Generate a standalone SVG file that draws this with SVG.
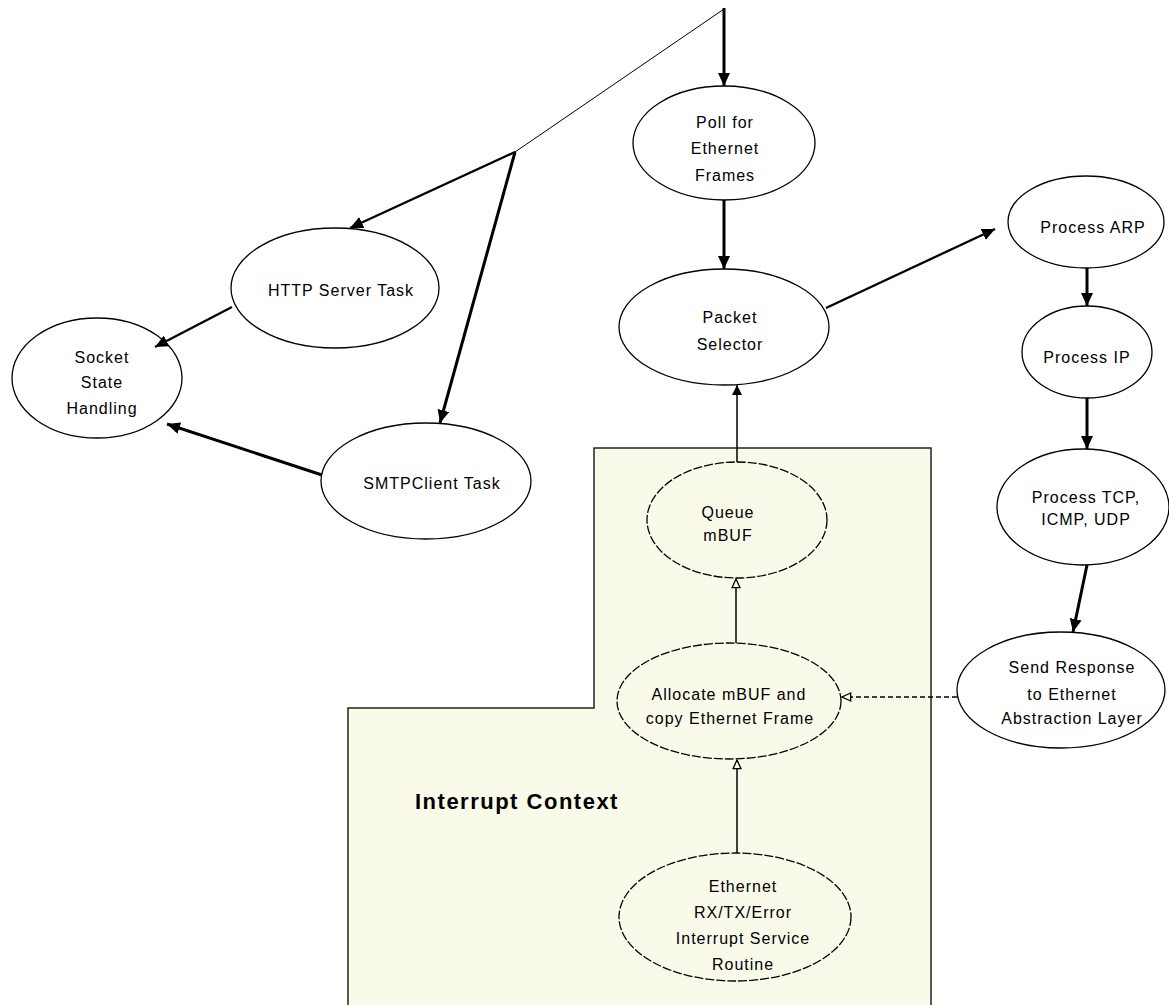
<svg xmlns="http://www.w3.org/2000/svg" width="1169" height="1005" viewBox="0 0 1169 1005">
<style>
  .node ellipse { fill: #ffffff; stroke: #000000; stroke-width: 1.3; }
  .inner ellipse { fill: none; stroke: #000000; stroke-width: 1.3; stroke-dasharray: 9 2; }
  .lbl { font-family: "Liberation Sans", Arial, sans-serif; font-size: 16px; letter-spacing: 1px; fill: #000000; text-anchor: middle; }
  .title { font-family: "Liberation Sans", Arial, sans-serif; font-size: 22px; font-weight: bold; letter-spacing: 1.5px; fill: #000000; }
  .c { fill: none; stroke: #000000; stroke-linecap: butt; }
  .thick { stroke-width: 3; }
  .med { stroke-width: 2.3; }
  .thin { stroke-width: 1; }
  .fine { stroke-width: 1.5; }
  .dash { stroke-width: 1.5; stroke-dasharray: 5 3; }
</style>
<defs>
  <marker id="ah" markerUnits="userSpaceOnUse" markerWidth="14" markerHeight="12" refX="13" refY="6" orient="auto" viewBox="0 0 14 12">
    <path d="M0,0 L13,6 L0,12 z" fill="#000000"/>
  </marker>
  <marker id="ahs" markerUnits="userSpaceOnUse" markerWidth="11" markerHeight="10" refX="10" refY="5" orient="auto" viewBox="0 0 11 10">
    <path d="M0,0 L10,5 L0,10 z" fill="#000000"/>
  </marker>
  <marker id="aho" markerUnits="userSpaceOnUse" markerWidth="11" markerHeight="10" refX="9.5" refY="5" orient="auto" viewBox="0 0 11 10">
    <path d="M0.8,1 L9.5,5 L0.8,9 z" fill="#FAFAEB" stroke="#000000" stroke-width="1.3"/>
  </marker>
</defs>

<g id="interrupt-context">
  <polygon points="594,448 931,448 931,1012 348,1012 348,708 594,708" fill="#FAFAEB" stroke="#222222" stroke-width="1.5"/>
  <text class="title" x="415" y="809">Interrupt Context</text>
</g>

<g id="poll">
  <g class="node"><ellipse cx="724" cy="143" rx="91" ry="57"/></g>
  <text class="lbl" x="725" y="128">Poll for</text>
  <text class="lbl" x="725" y="154">Ethernet</text>
  <text class="lbl" x="725" y="181">Frames</text>
</g>
<g id="http">
  <g class="node"><ellipse cx="335" cy="288" rx="104" ry="60"/></g>
  <text class="lbl" x="341" y="296">HTTP Server Task</text>
</g>
<g id="socket">
  <g class="node"><ellipse cx="97" cy="378" rx="85" ry="60"/></g>
  <text class="lbl" x="102" y="363">Socket</text>
  <text class="lbl" x="102" y="388">State</text>
  <text class="lbl" x="102" y="414">Handling</text>
</g>
<g id="smtp">
  <g class="node"><ellipse cx="426" cy="481" rx="105" ry="58"/></g>
  <text class="lbl" x="432" y="489">SMTPClient Task</text>
</g>
<g id="packet">
  <g class="node"><ellipse cx="724" cy="327" rx="105" ry="58"/></g>
  <text class="lbl" x="730" y="323">Packet</text>
  <text class="lbl" x="730" y="350">Selector</text>
</g>
<g id="arp">
  <g class="node"><ellipse cx="1086" cy="222" rx="78" ry="46"/></g>
  <text class="lbl" x="1093" y="233">Process ARP</text>
</g>
<g id="ip">
  <g class="node"><ellipse cx="1087" cy="352" rx="65" ry="46"/></g>
  <text class="lbl" x="1087" y="363">Process IP</text>
</g>
<g id="tcp">
  <g class="node"><ellipse cx="1083" cy="507" rx="86" ry="58"/></g>
  <text class="lbl" x="1086" y="503">Process TCP,</text>
  <text class="lbl" x="1086" y="525">ICMP, UDP</text>
</g>
<g id="send">
  <g class="node"><ellipse cx="1061" cy="690" rx="104" ry="58"/></g>
  <text class="lbl" x="1072" y="673">Send Response</text>
  <text class="lbl" x="1072" y="700">to Ethernet</text>
  <text class="lbl" x="1072" y="724">Abstraction Layer</text>
</g>
<g id="queue">
  <g class="inner"><ellipse cx="737" cy="520" rx="90" ry="58"/></g>
  <text class="lbl" x="728" y="518">Queue</text>
  <text class="lbl" x="728" y="541">mBUF</text>
</g>
<g id="allocate">
  <g class="inner"><ellipse cx="729" cy="701" rx="112" ry="58"/></g>
  <text class="lbl" x="729" y="700">Allocate mBUF and</text>
  <text class="lbl" x="730" y="724">copy Ethernet Frame</text>
</g>
<g id="isr">
  <g class="inner"><ellipse cx="735" cy="917" rx="116" ry="64"/></g>
  <text class="lbl" x="743" y="892">Ethernet</text>
  <text class="lbl" x="743" y="918">RX/TX/Error</text>
  <text class="lbl" x="743" y="944">Interrupt Service</text>
  <text class="lbl" x="743" y="970">Routine</text>
</g>

<g id="connectors">
  <line class="c thick" x1="724" y1="8" x2="724" y2="86" marker-end="url(#ah)"/>
  <line class="c thin" x1="724" y1="9" x2="515" y2="152"/>
  <line class="c med" x1="515" y1="152" x2="350" y2="228" marker-end="url(#ah)"/>
  <line class="c thick" x1="515" y1="152" x2="440" y2="423" marker-end="url(#ah)"/>
  <line class="c med" x1="232" y1="307" x2="155" y2="347" marker-end="url(#ah)"/>
  <line class="c thick" x1="322" y1="475" x2="167" y2="424" marker-end="url(#ah)"/>
  <line class="c thick" x1="724" y1="200" x2="724" y2="269" marker-end="url(#ah)"/>
  <line class="c med" x1="826" y1="308" x2="995" y2="229" marker-end="url(#ah)"/>
  <line class="c thick" x1="1087" y1="268" x2="1087" y2="306" marker-end="url(#ah)"/>
  <line class="c thick" x1="1087" y1="398" x2="1087" y2="449" marker-end="url(#ah)"/>
  <line class="c thick" x1="1087" y1="565" x2="1073" y2="632" marker-end="url(#ah)"/>
  <line class="c fine" x1="737" y1="462" x2="737" y2="385" marker-end="url(#ahs)"/>
  <line class="c fine" x1="736" y1="643" x2="736" y2="579" marker-end="url(#aho)"/>
  <line class="c fine" x1="737" y1="853" x2="737" y2="760" marker-end="url(#aho)"/>
  <line class="c dash" x1="957" y1="697" x2="842" y2="697" marker-end="url(#aho)"/>
</g>
</svg>
